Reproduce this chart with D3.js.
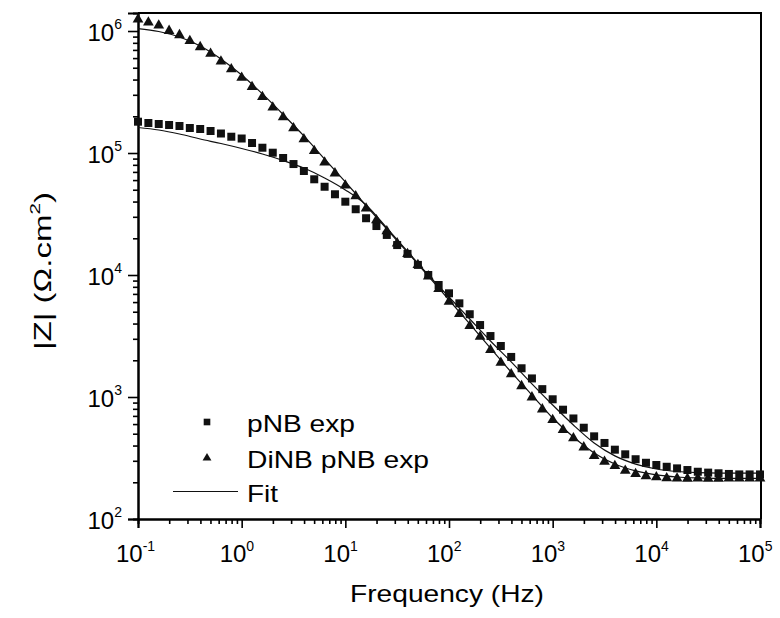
<!DOCTYPE html>
<html><head><meta charset="utf-8">
<script src="https://cdn.jsdelivr.net/npm/d3@7"></script>
<style>body{margin:0;background:#fff}svg{display:block}</style>
</head><body>
<svg id="c" width="780" height="618"></svg>
<script>
// ---- data ----
const freq = [0.1,0.1259,0.1585,0.1995,0.2512,0.3162,0.3981,0.5012,0.631,0.7943,
  1,1.259,1.585,1.995,2.512,3.162,3.981,5.012,6.31,7.943,
  10,12.59,15.85,19.95,25.12,31.62,39.81,50.12,63.1,79.43,
  100,125.9,158.5,199.5,251.2,316.2,398.1,501.2,631,794.3,
  1000,1259,1585,1995,2512,3162,3981,5012,6310,7943,
  10000,12590,15850,19950,25120,31620,39810,50120,63100,79430,100000];
const pNBexp = [180600,176200,172900,169700,166500,160300,157300,151500,144500,136000,
  131500,120800,110500,100600,91000,81200,71200,60900,52900,45900,
  39900,34600,29200,25200,21300,17600,14900,12100,10000,8280,
  7080,5860,4770,3890,3160,2620,2130,1720,1420,1160,
  958,787,667,560,476,420,370,339,309,289,
  277,268,260,252,244,240,237,234,232,232,232];
const DiNBexp = [1243000,1174000,1110000,1004000,927000,828000,739000,651000,564000,486000,
  414000,348000,288000,236000,197000,160000,130000,104000,83600,68200,
  54300,44200,35200,28200,22900,18200,14900,12100,9760,7680,
  6040,4790,3820,3120,2430,1910,1540,1230,994,793,
  648,537,459,387,329,295,272,249,234,225,
  220,216,215,214,215,214,214,215,215,215,215];
const fitFreq = [0.1,0.1585,0.2512,0.3981,0.631,1,1.585,2.512,3.981,6.31,
  10,15.85,25.12,39.81,63.1,100,158.5,251.2,398.1,631,
  1000,1585,2512,3981,6310,10000,15850,25120,39810,63100,100000];
const pNBfit = [161800,154300,143100,130200,119600,108900,98100,86800,75300,62400,
  49800,37500,24300,15600,10000,6600,4360,2880,1940,1280,
  860,589,420,329,282,257,245,240,238,238,238];
const DiNBfit = [1048000,991000,893000,753000,590000,436000,305000,207000,138000,89300,
  57900,37100,23800,15300,9810,6240,3970,2520,1600,1038,
  673,470,348,282,248,230,221,217,215,215,215];
const xTicks = [0.1,1,10,100,1000,10000,100000];
const xTickExp = ["-1","0","1","2","3","4","5"];
const yTicks = [100,1000,10000,100000,1000000];
const yTickExp = ["2","3","4","5","6"];
const legendLabels = ["pNB exp","DiNB pNB exp","Fit"];
const xTitle = "Frequency (Hz)";
const yTitleMain = "|Z| (\u03A9.cm";
const yTitleSup = "2";

// ---- layout ----
const L = 138, R = 760, T = 13, B = 519;
const FONT = "'Liberation Sans', Arial, sans-serif";
const svg = d3.select("#c");
const x = d3.scaleLog().domain([0.1, 100000]).range([L, R]);
const y = d3.scaleLog().domain([100, 1405000]).range([B, T]);

function minors(lo, hi) {
  const out = [];
  for (let e = lo; e < hi; e++) for (let m = 2; m <= 9; m++) out.push(m * Math.pow(10, e));
  return out;
}

// axes
const gx = svg.append("g").attr("transform", `translate(0,${B})`);
gx.call(d3.axisBottom(x).tickValues(minors(-1, 5)).tickSize(5).tickFormat(""));
const gx2 = svg.append("g").attr("transform", `translate(0,${B})`);
gx2.call(d3.axisBottom(x).tickValues(xTicks).tickSize(9).tickFormat(""));
const gy = svg.append("g").attr("transform", `translate(${L},0)`);
gy.call(d3.axisLeft(y).tickValues(minors(2, 6)).tickSize(5).tickFormat(""));
const gy2 = svg.append("g").attr("transform", `translate(${L},0)`);
gy2.call(d3.axisLeft(y).tickValues(yTicks).tickSize(10).tickFormat(""));
svg.selectAll(".domain").attr("stroke", "#000").attr("stroke-width", 2);
svg.selectAll(".tick line").attr("stroke", "#000").attr("stroke-width", 1.6);

// frame top/right
svg.append("path").attr("d", `M${L},${T}H${R+1}V${B}`).attr("fill", "none")
  .attr("stroke", "#000").attr("stroke-width", 2);

// tick labels
xTicks.forEach((v, i) => {
  const t = svg.append("text").attr("x", x(v) - 22).attr("y", 562)
    .attr("font-family", FONT).attr("font-size", 24).attr("fill", "#000");
  t.append("tspan").text("10");
  t.append("tspan").attr("dy", -11).attr("font-size", 14).text(xTickExp[i]);
});
yTicks.forEach((v, i) => {
  const t = svg.append("text").attr("x", 122).attr("y", y(v) + 10)
    .attr("text-anchor", "end").attr("font-family", FONT).attr("font-size", 24).attr("fill", "#000");
  t.append("tspan").text("10");
  t.append("tspan").attr("dy", -12).attr("font-size", 14).text(yTickExp[i]);
});

// titles
svg.append("text").attr("x", 447).attr("y", 602).attr("text-anchor", "middle")
  .attr("font-family", FONT).attr("font-size", 24).attr("fill", "#000")
  .attr("textLength", 194).attr("lengthAdjust", "spacingAndGlyphs").text(xTitle);
const yt = svg.append("text").attr("transform", "translate(51,271) rotate(-90)")
  .attr("text-anchor", "middle").attr("font-family", FONT).attr("font-size", 24).attr("fill", "#000")
  .attr("textLength", 158).attr("lengthAdjust", "spacingAndGlyphs");
yt.append("tspan").text(yTitleMain);
yt.append("tspan").attr("dy", -11).attr("font-size", 15).text(yTitleSup);
yt.append("tspan").attr("dy", 11).text(")");

// fit lines
const line = d3.line().x((d, i) => x(fitFreq[i])).y(d => y(d)).curve(d3.curveMonotoneX);
[pNBfit, DiNBfit].forEach(s => {
  svg.append("path").attr("d", line(s)).attr("fill", "none")
    .attr("stroke", "#111").attr("stroke-width", 1.2);
});

// markers
const sq = d3.symbol().type(d3.symbolSquare).size(64);
const tri = d3.symbol().type(d3.symbolTriangle).size(50);
svg.append("g").selectAll("path").data(pNBexp).join("path")
  .attr("d", sq).attr("transform", (d, i) => `translate(${x(freq[i])},${y(d)})`).attr("fill", "#111");
svg.append("g").selectAll("path").data(DiNBexp).join("path")
  .attr("d", tri).attr("transform", (d, i) => `translate(${x(freq[i])},${y(d)})`).attr("fill", "#111");

// legend
const lg = svg.append("g");
lg.append("path").attr("d", d3.symbol().type(d3.symbolSquare).size(44)())
  .attr("transform", "translate(207,422)").attr("fill", "#111");
lg.append("path").attr("d", d3.symbol().type(d3.symbolTriangle).size(34)())
  .attr("transform", "translate(207,458)").attr("fill", "#111");
lg.append("line").attr("x1", 173).attr("x2", 238).attr("y1", 491.5).attr("y2", 491.5)
  .attr("stroke", "#111").attr("stroke-width", 1.2);
const lw = [108, 182, 31];
const ly = [432, 467.5, 502];
legendLabels.forEach((s, i) => {
  lg.append("text").attr("x", 247).attr("y", ly[i]).attr("font-family", FONT)
    .attr("font-size", 24).attr("fill", "#000")
    .attr("textLength", lw[i]).attr("lengthAdjust", "spacingAndGlyphs").text(s);
});
</script>
</body></html>
